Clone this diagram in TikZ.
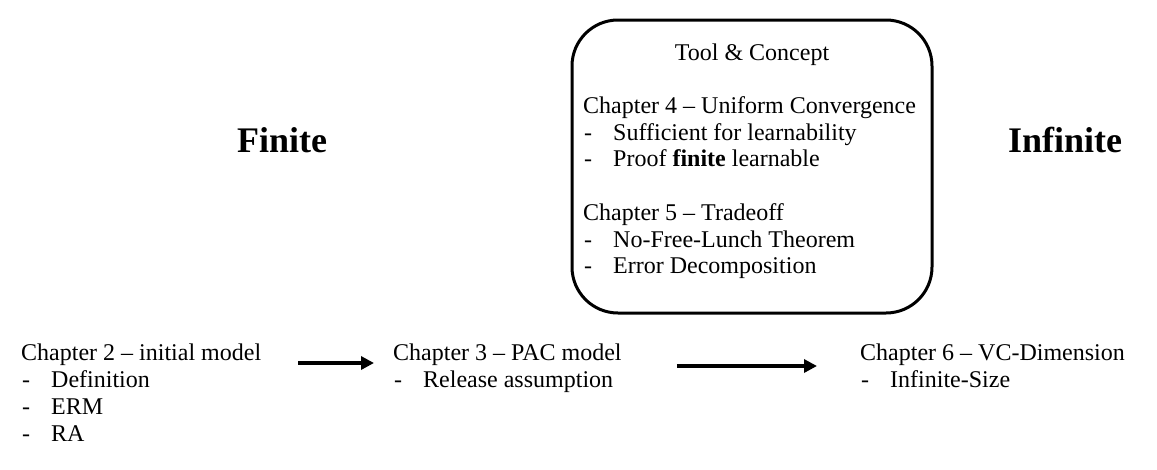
\documentclass[tikz,border=0pt]{standalone}
\usepackage{fontspec}
\setmainfont{Liberation Serif}
\usetikzlibrary{arrows.meta}
\newcommand{\itm}[1]{\makebox[30pt][l]{\hspace{1pt}-}#1}
\begin{document}
\begin{tikzpicture}[x=1pt,y=-1pt,
    txt/.style={anchor=base west, inner sep=0pt, font=\fontsize{24}{27}\selectfont},
    big/.style={anchor=base, inner sep=0pt, font=\fontsize{36}{40}\selectfont\bfseries},
    arr/.style={line width=4pt, -{Triangle[length=13pt,width=13pt]}}]
        \useasboundingbox (0,0) rectangle (1157,469);

        \node[big] (finite) at (282,152) {Finite};
        \node[big] (infinite) at (1065,152) {Infinite};

        \draw[black, line width=3pt, rounded corners=46pt] (572,20) rectangle (932,313);
        \node[txt, anchor=base] (tool) at (752,60) {Tool \& Concept};
        \node[txt] (ch4) at (583,113) {Chapter 4 -- Uniform Convergence};
        \node[txt] (ch4a) at (583,140) {\itm{Sufficient for learnability}};
        \node[txt] (ch4b) at (583,166) {\itm{Proof \textbf{finite} learnable}};
        \node[txt] (ch5) at (583,220) {Chapter 5 -- Tradeoff};
        \node[txt] (ch5a) at (583,247) {\itm{No-Free-Lunch Theorem}};
        \node[txt] (ch5b) at (583,273) {\itm{Error Decomposition}};

        \node[txt] (ch2) at (21,360) {Chapter 2 -- initial model};
        \node[txt] (ch2a) at (21,387) {\itm{Definition}};
        \node[txt] (ch2b) at (21,414) {\itm{ERM}};
        \node[txt] (ch2c) at (21,441) {\itm{RA}};

        \node[txt] (ch3) at (393,360) {Chapter 3 -- PAC model};
        \node[txt] (ch3a) at (393,387) {\itm{Release assumption}};

        \node[txt] (ch6) at (860,360) {Chapter 6 -- VC-Dimension};
        \node[txt] (ch6a) at (860,387) {\itm{Infinite-Size}};

        \draw[arr] ([xshift=37pt,yshift=-3pt]ch2.base east) -- ([xshift=-19pt,yshift=-3pt]ch3.base west);
        \draw[arr] ([xshift=55pt,yshift=-6pt]ch3.base east) -- ([xshift=-43pt,yshift=-6pt]ch6.base west);
    \end{tikzpicture}
\end{document}
